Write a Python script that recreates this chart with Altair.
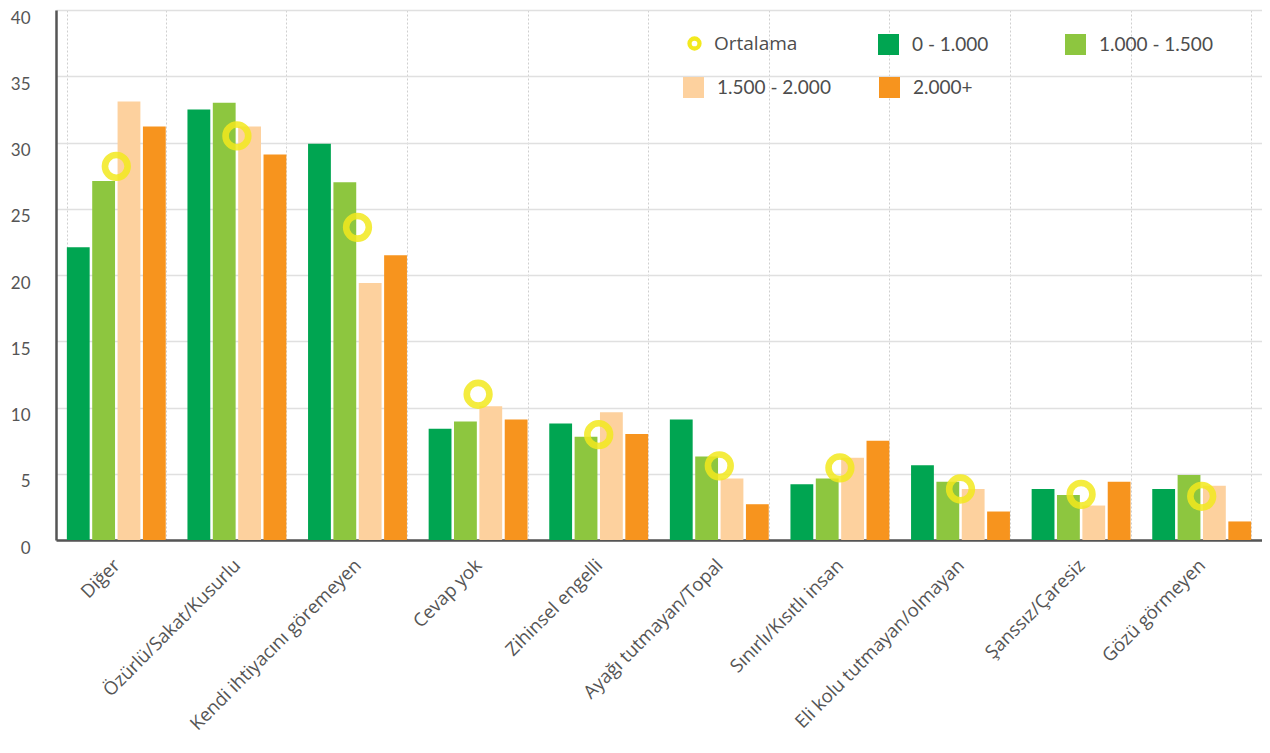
import altair as alt
import pandas as pd

categories = [
    "Diğer",
    "Özürlü/Sakat/Kusurlu",
    "Kendi ihtiyacını göremeyen",
    "Cevap yok",
    "Zihinsel engelli",
    "Ayağı tutmayan/Topal",
    "Sınırlı/Kısıtlı insan",
    "Eli kolu tutmayan/olmayan",
    "Şanssız/Çaresiz",
    "Gözü görmeyen",
]
series_names = ["0 - 1.000", "1.000 - 1.500", "1.500 - 2.000", "2.000+"]
s_0_1000 = [22.1, 32.5, 29.9, 8.4, 8.8, 9.1, 4.2, 5.65, 3.85, 3.85]
s_1000_1500 = [27.1, 33.0, 27.0, 8.95, 7.8, 6.3, 4.65, 4.4, 3.4, 4.9]
s_1500_2000 = [33.1, 31.2, 19.4, 10.1, 9.65, 4.65, 6.2, 3.85, 2.6, 4.1]
s_2000_plus = [31.2, 29.1, 21.5, 9.1, 8.0, 2.7, 7.5, 2.15, 4.4, 1.4]
ortalama = [28.2, 30.5, 23.6, 11.0, 7.95, 5.6, 5.45, 3.85, 3.45, 3.3]
ortalama_label = "Ortalama"

bar_colors = ["#00A551", "#8DC63F", "#FDD19E", "#F7941E"]
ring_color = "#F3E91E"

rows = []
for name, vals in zip(series_names, [s_0_1000, s_1000_1500, s_1500_2000, s_2000_plus]):
    for c, v in zip(categories, vals):
        rows.append({"kategori": c, "seri": name, "deger": v})
bars_df = pd.DataFrame(rows)
avg_df = pd.DataFrame({"kategori": categories, "deger": ortalama, "seri": ortalama_label})

x_enc = alt.X(
    "kategori:N",
    sort=categories,
    scale=alt.Scale(domain=categories, paddingInner=0.18, paddingOuter=0.09),
    axis=alt.Axis(
        title=None,
        labelAngle=-45,
        labelAlign="right",
        labelBaseline="middle",
        labelPadding=22,
        labelFont="Open Sans",
        labelFontSize=18.5,
        labelColor="#555555",
        labelLimit=400,
        domainColor="#555555",
        domainWidth=2.5,
        ticks=False,
        grid=True,
        gridDash=[2, 2],
        gridColor="#cfcfcf",
        gridWidth=1,
        tickBand="extent",
    ),
)
y_enc = alt.Y(
    "deger:Q",
    scale=alt.Scale(domain=[0, 40], nice=False),
    axis=alt.Axis(
        title=None,
        values=[0, 5, 10, 15, 20, 25, 30, 35, 40],
        labelFont="Lato",
        labelFontSize=17,
        labelColor="#555555",
        labelPadding=26,
        labelBaseline="middle",
        labelOffset=8,
        ticks=False,
        domainColor="#555555",
        domainWidth=2.5,
        gridColor="#e0e0e0",
        gridWidth=1.5,
    ),
)
xoff_enc = alt.XOffset(
    "seri:N",
    sort=series_names,
    scale=alt.Scale(domain=series_names, paddingInner=0.1, paddingOuter=0),
)


def bar_legend(x, y, col_pad):
    return alt.Legend(
        title=None,
        orient="none",
        legendX=x,
        legendY=y,
        direction="horizontal",
        columns=2,
        columnPadding=col_pad,
        padding=0,
        symbolType="square",
        symbolSize=441,
        symbolStrokeWidth=0,
        labelOffset=13,
        labelFont="Lato",
        labelFontSize=19,
        labelColor="#4d4d4d",
    )


bars_a = (
    alt.Chart(bars_df)
    .transform_filter(alt.FieldOneOfPredicate(field="seri", oneOf=series_names[:2]))
    .mark_bar()
    .encode(
        x=x_enc,
        y=y_enc,
        xOffset=xoff_enc,
        color=alt.Color(
            "seri:N",
            scale=alt.Scale(domain=series_names[:2], range=bar_colors[:2]),
            legend=bar_legend(822, 24, 76),
        ),
    )
)

bars_b = (
    alt.Chart(bars_df)
    .transform_filter(alt.FieldOneOfPredicate(field="seri", oneOf=series_names[2:]))
    .mark_bar()
    .encode(
        x=x_enc,
        y=y_enc,
        xOffset=xoff_enc,
        color=alt.Color(
            "seri:N",
            scale=alt.Scale(domain=series_names[2:], range=bar_colors[2:]),
            legend=bar_legend(627, 67, 48),
        ),
    )
)

rings = (
    alt.Chart(avg_df)
    .mark_point(shape="circle", filled=False, size=515, strokeWidth=6.6, opacity=0.85)
    .encode(
        x=x_enc,
        y=y_enc,
        color=alt.Color(
            "seri:N",
            scale=alt.Scale(domain=[ortalama_label], range=[ring_color]),
            legend=alt.Legend(
                title=None,
                orient="none",
                legendX=629,
                legendY=24,
                padding=0,
                symbolType="circle",
                symbolSize=100,
                symbolStrokeWidth=4.3,
                symbolOpacity=1,
                labelOffset=10,
                labelFont="Open Sans",
                labelFontSize=19,
                labelColor="#4d4d4d",
            ),
        ),
    )
)

chart = (
    alt.layer(bars_a, bars_b, rings)
    .resolve_scale(color="independent")
    .properties(
        width=1206,
        height=530,
        autosize=alt.AutoSizeParams(type="none"),
        padding={"left": 48, "top": 2, "right": 0, "bottom": 198},
        background="white",
    )
    .configure_view(stroke=None)
)

chart.save("out.html", embed_options={"renderer": "svg", "actions": False})
